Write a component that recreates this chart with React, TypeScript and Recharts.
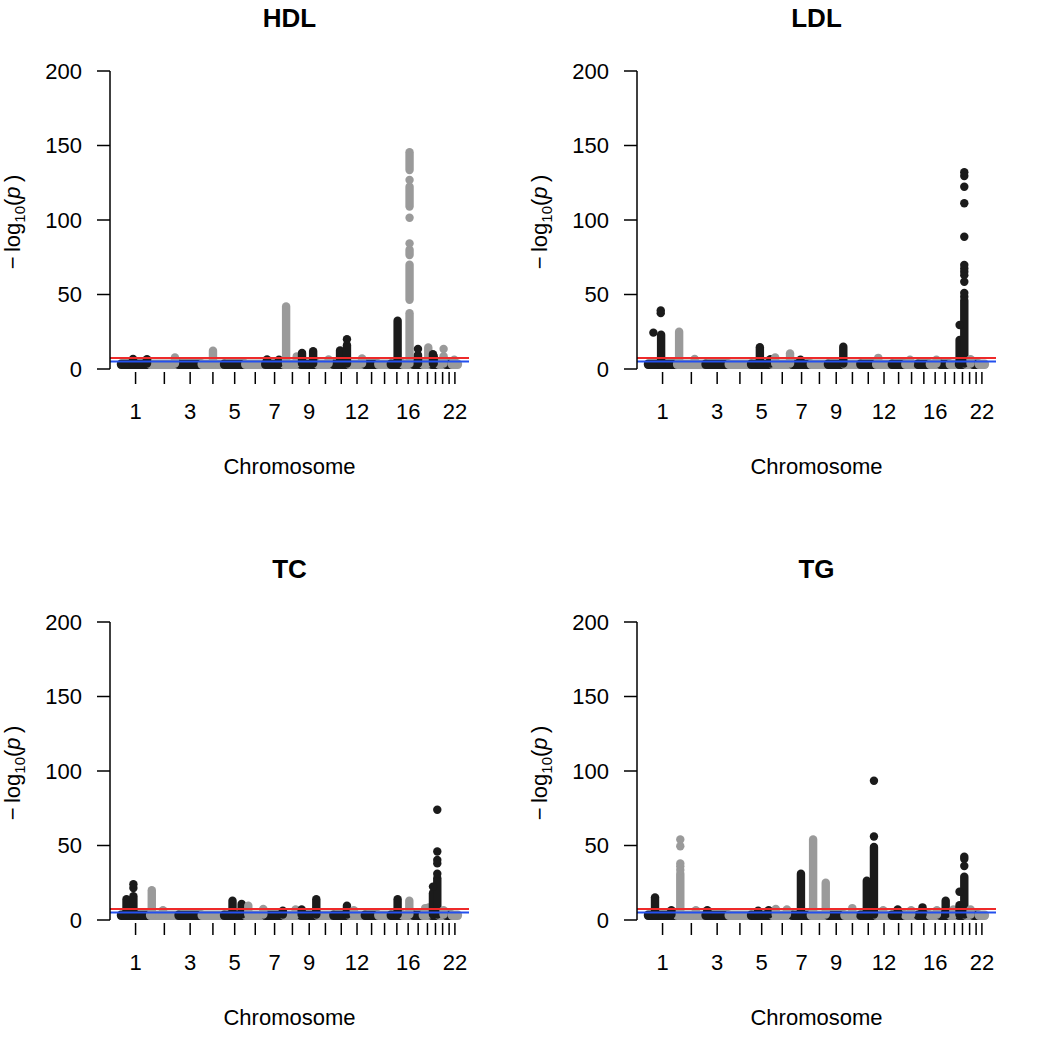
import React from "react";
import {
  ComposedChart,
  XAxis,
  YAxis,
  Scatter,
  ReferenceArea,
  ReferenceLine,
} from "recharts";

// chromosome sizes in Mb (autosomes 1-22)
const chromLengths = [
  249, 243, 198, 191, 181, 171, 159, 146, 141, 136, 135,
  134, 115, 107, 103, 90, 81, 78, 59, 63, 48, 51,
];
const labeledChroms = [1, 3, 5, 7, 9, 12, 16, 22];
const yTicks = [0, 50, 100, 150, 200];

// genome-wide / suggestive thresholds (-log10 p)
const redLine = 7.3;
const blueLine = 5;

// every chromosome carries a dense band of SNPs just above p = 1e-3
const baseLow = 2.8;
const baseHigh = 3.6;
const B = baseHigh;

// columns of points: [chr, position (Mb), lowest value, highest value]
const hdlColumns = [
  [1, 103, B, 6.8], [1, 222, B, 6.6], [2, 212, B, 7.8], [4, 96, B, 12.3],
  [7, 15, B, 6.4], [7, 117, B, 6.2], [8, 19, B, 42], [8, 110, B, 8.5],
  [9, 9, B, 10.7], [9, 104, B, 12], [10, 95, B, 6.4], [11, 57, B, 12.5],
  [11, 116, B, 16], [12, 110, B, 7], [15, 58, B, 32.4],
  [16, 57, B, 37.5], [16, 57, 46.5, 70], [16, 57, 76.5, 80],
  [16, 57, 109, 122.3], [16, 57, 133.6, 145.5],
  [17, 39, B, 9.5], [18, 46, B, 14.5], [19, 8, B, 10], [19, 14, B, 8.5],
  [20, 40, B, 8.5], [22, 20, B, 6.2],
];
// single points: [chr, position (Mb), value]
const hdlDots = [
  [11, 116, 20], [16, 57, 84.3], [16, 57, 101.5], [16, 57, 126.8],
  [17, 39, 13.4], [20, 40, 13.4],
];

const ldlColumns = [
  [1, 112, B, 23], [2, 17, B, 25], [2, 150, B, 6.8], [5, 75, B, 14.6],
  [5, 165, B, 6.5], [6, 25, B, 7.8], [6, 152, B, 10.5], [7, 70, B, 6.2],
  [9, 131, B, 15], [12, 18, B, 7.5], [14, 40, B, 6.2], [16, 56, B, 6.2],
  [19, 5, B, 19.5], [19, 45, B, 46], [20, 40, B, 6.5],
];
const ldlDots = [
  [1, 46, 24.4], [1, 109, 37.5], [1, 109, 39.3], [19, 5, 29.5],
  [19, 45, 48.5], [19, 45, 51], [19, 45, 58.6], [19, 45, 63],
  [19, 45, 65.3], [19, 45, 67.5], [19, 45, 69.8], [19, 45, 88.8],
  [19, 45, 111.2], [19, 45, 122.3], [19, 45, 129.5], [19, 45, 132],
];

const tcColumns = [
  [1, 47, B, 14], [1, 106, B, 16], [2, 14, B, 20], [2, 110, B, 6.5],
  [5, 72, B, 13], [5, 150, B, 10.7], [6, 26, B, 9.6], [6, 154, B, 7.4],
  [7, 150, B, 6.2], [8, 100, B, 7], [9, 6, B, 7], [9, 131, B, 14],
  [11, 116, B, 9.6], [12, 40, B, 6.5], [15, 58, B, 14], [16, 55, B, 13],
  [18, 20, B, 8], [18, 50, B, 8.5], [19, 8, B, 18], [19, 45, B, 28],
  [20, 40, B, 6.5],
];
const tcDots = [
  [1, 106, 21.5], [1, 106, 24], [19, 8, 22.4], [19, 45, 31],
  [19, 45, 38], [19, 45, 40.3], [19, 45, 46], [19, 45, 74],
];

const tgColumns = [
  [1, 60, B, 15.2], [1, 200, B, 6.5], [2, 27, B, 31], [2, 160, B, 6.5],
  [3, 15, B, 6.5], [5, 60, B, 6.2], [5, 150, B, 6.5], [6, 30, B, 7.4],
  [6, 125, B, 7], [7, 74, B, 31], [8, 19, B, 54], [8, 127, B, 25],
  [10, 67, B, 8], [11, 55, B, 26.4], [11, 116, B, 49], [12, 60, B, 6.5],
  [13, 50, B, 7], [14, 50, B, 6.5], [15, 40, B, 8.5], [16, 60, B, 6.5],
  [17, 45, B, 13], [18, 30, B, 7], [19, 4, B, 10], [19, 45, B, 29],
  [20, 40, B, 7],
];
const tgDots = [
  [2, 27, 33.5], [2, 27, 36], [2, 27, 38], [2, 27, 49.5], [2, 27, 54],
  [11, 116, 56], [11, 116, 93.5], [19, 4, 19], [19, 45, 36.2],
  [19, 45, 41], [19, 45, 42.5],
];

const chromStarts = chromLengths.map((_, i) =>
  chromLengths.slice(0, i).reduce((a, b) => a + b, 0)
);
const tickPositions = chromLengths.map((len, i) => chromStarts[i] + len / 2);

const BLACK = "#1b1b1b";
const GREY = "#9a9a9a";
const R = 4.2; // point radius
const PANEL_H = 499;
const PLOT_RIGHT = 469;

const chromColor = (chr: number) => (chr % 2 === 1 ? BLACK : GREY);

// a stack of overlapping points -> rounded bar padded by the point radius
const capsule = (fill: string) => (p: any) => (
  <rect
    x={p.x - R}
    y={p.y - R}
    width={p.width + 2 * R}
    height={p.height + 2 * R}
    rx={R}
    ry={R}
    fill={fill}
  />
);

const ChromTick = (props: any) => {
  const { x, y, payload } = props;
  const chr = tickPositions.indexOf(payload.value) + 1;
  return (
    <g>
      <line x1={x} x2={x} y1={y + 3} y2={y + 15} stroke="#000" strokeWidth={1.5} />
      {labeledChroms.includes(chr) && (
        <text x={x} y={y + 50} textAnchor="middle" fontSize={22} fill="#000">
          {chr}
        </text>
      )}
    </g>
  );
};

const xTitle = (props: any) => {
  const vb = props.viewBox;
  return (
    <text x={vb.x + vb.width / 2} y={vb.y + 105} textAnchor="middle" fontSize={22} fill="#000">
      Chromosome
    </text>
  );
};

const yTitle = (props: any) => {
  const vb = props.viewBox;
  const cx = vb.x + 20;
  const cy = vb.y + vb.height / 2 + 2;
  return (
    <text
      x={cx}
      y={cy}
      transform={`rotate(-90 ${cx} ${cy})`}
      textAnchor="middle"
      fontSize={22}
      fill="#000"
    >
      {"\u2212\u2009log"}
      <tspan fontSize={15} dy={5}>10</tspan>
      <tspan dy={-5}>(</tspan>
      <tspan fontStyle="italic">p</tspan>
      {"\u2009)"}
    </text>
  );
};

interface PanelProps {
  title: string;
  columns: number[][];
  dots: number[][];
  left: number;
  top: number;
  width: number;
}

function Manhattan({ title, columns, dots, left, top, width }: PanelProps) {
  const points = dots.map(([chr, pos, v]) => ({
    x: chromStarts[chr - 1] + pos,
    y: v,
    chr,
  }));

  return (
    <div style={{ position: "absolute", left, top, width, height: PANEL_H }}>
      <div
        style={{
          position: "absolute",
          left: 110,
          width: PLOT_RIGHT - 110,
          top: 5,
          textAlign: "center",
          fontWeight: 700,
          fontSize: 26,
          lineHeight: "26px",
        }}
      >
        {title}
      </div>
      <ComposedChart
        width={width}
        height={PANEL_H}
        margin={{ top: 71, right: width - PLOT_RIGHT, bottom: 0, left: 0 }}
      >
        <XAxis
          type="number"
          dataKey="x"
          domain={[-94, 2974]}
          allowDataOverflow
          ticks={tickPositions}
          interval={0}
          height={130}
          axisLine={false}
          tickLine={false}
          tickSize={0}
          tickMargin={0}
          tick={<ChromTick />}
          label={xTitle}
        />
        <YAxis
          type="number"
          dataKey="y"
          domain={[0, 200]}
          allowDataOverflow
          ticks={yTicks}
          interval={0}
          width={110}
          stroke="#000"
          axisLine={{ stroke: "#000", strokeWidth: 1.5 }}
          tickLine={{ stroke: "#000", strokeWidth: 1.5 }}
          tickSize={13}
          tickMargin={15}
          tick={{ fill: "#000", fontSize: 22 }}
          label={yTitle}
        />

        {chromLengths.map((len, i) => (
          <ReferenceArea
            key={`band-${i}`}
            x1={chromStarts[i]}
            x2={chromStarts[i] + len}
            y1={baseLow}
            y2={baseHigh}
            shape={capsule(chromColor(i + 1))}
          />
        ))}

        {columns.map(([chr, pos, lo, hi], i) => (
          <ReferenceArea
            key={`col-${i}`}
            x1={chromStarts[chr - 1] + pos}
            x2={chromStarts[chr - 1] + pos}
            y1={lo}
            y2={hi}
            shape={capsule(chromColor(chr))}
          />
        ))}

        <Scatter
          data={points}
          isAnimationActive={false}
          shape={(p: any) => (
            <circle cx={p.cx} cy={p.cy} r={R} fill={chromColor(p.payload.chr)} />
          )}
        />

        <ReferenceLine y={redLine} stroke="#ee2a2a" strokeWidth={2} />
        <ReferenceLine y={blueLine} stroke="#2350ee" strokeWidth={2} />
      </ComposedChart>
    </div>
  );
}

export default function App() {
  return (
    <div
      style={{
        position: "absolute",
        left: 0,
        top: 0,
        width: 1042,
        height: 1050,
        overflow: "hidden",
        background: "#fff",
        fontFamily: '"Liberation Sans", Arial, Helvetica, sans-serif',
      }}
    >
      <Manhattan title="HDL" columns={hdlColumns} dots={hdlDots} left={0} top={0} width={527} />
      <Manhattan title="LDL" columns={ldlColumns} dots={ldlDots} left={527} top={0} width={515} />
      <Manhattan title="TC" columns={tcColumns} dots={tcDots} left={0} top={551} width={527} />
      <Manhattan title="TG" columns={tgColumns} dots={tgDots} left={527} top={551} width={515} />
    </div>
  );
}
